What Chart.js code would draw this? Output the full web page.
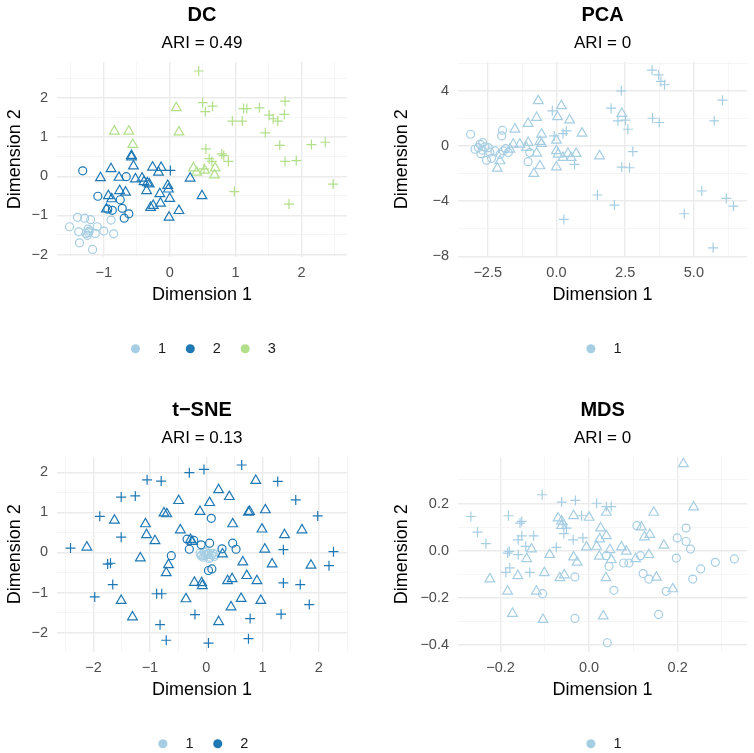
<!DOCTYPE html>
<html>
<head>
<meta charset="utf-8">
<script src="https://cdn.jsdelivr.net/npm/chart.js@4.4.0/dist/chart.umd.min.js"></script>
<style>
html, body { margin: 0; padding: 0; background: #fff; overflow: hidden; }
#wrap { position: relative; width: 754px; height: 753px; overflow: hidden; }
canvas { position: absolute; }
</style>
</head>
<body>
<div id="wrap">
  <canvas id="c1" width="377" height="366" style="left:0;top:0"></canvas>
  <canvas id="c2" width="377" height="366" style="left:377px;top:0"></canvas>
  <canvas id="c3" width="377" height="366" style="left:0;top:395px"></canvas>
  <canvas id="c4" width="377" height="366" style="left:377px;top:395px"></canvas>
</div>
<script>
// cluster colours (Paired palette)
var clusterColors = ['#A6CEE3', '#1F78B4', '#B2DF8A']

// ---- DC ----
var dcCircle1 = [[-1.40,-1.05],[-1.29,-1.07],[-1.20,-1.11],[-1.52,-1.29],[-1.38,-1.42],[-1.24,-1.35],[-1.23,-1.44],[-1.10,-1.29],[-1.00,-1.40],[-0.89,-1.12],[-0.85,-1.47],[-1.13,-1.46],[-1.25,-1.51],[-1.37,-1.70],[-1.17,-1.87],[-1.22,-1.40],[-1.27,-1.46]]
var dcCircle2 = [[-1.32,0.14],[-1.09,-0.51],[-0.66,-0.01],[-0.87,-0.87],[-0.72,-0.82],[-0.69,-1.07],[-0.62,-0.96],[-0.75,-0.60],[-0.94,-0.84]]
var dcTriangle2 = [[-1.05,-0.04],[-0.89,0.19],[-0.77,-0.03],[-0.58,0.53],[-0.58,0.49],[-0.55,0.26],[-0.52,-0.07],[-0.42,-0.05],[-0.39,-0.14],[-0.34,-0.17],[-0.31,-0.20],[-0.35,-0.37],[-0.26,0.23],[-0.13,0.22],[-0.17,0.10],[-0.93,-0.50],[-0.88,-0.58],[-0.76,-0.37],[-0.67,-0.41],[-0.96,-0.84],[-0.29,-0.80],[-0.25,-0.75],[-0.14,-0.69],[-0.15,-0.45],[-0.03,-0.24],[-0.02,-0.33],[0.00,-0.57],[0.14,-0.88],[-0.01,-1.05],[0.31,-0.05],[0.49,-0.50]]
var dcCross2 = [[0.01,0.15]]
var dcTriangle3 = [[0.10,1.75],[-0.84,1.15],[-0.62,1.15],[-0.56,0.81],[0.14,1.13],[0.36,0.21],[0.41,0.10],[0.69,0.21],[0.68,0.03],[0.53,0.15]]
var dcCross3 = [[0.44,2.69],[0.50,1.88],[0.65,1.79],[0.54,1.65],[1.12,1.73],[1.17,1.73],[1.36,1.75],[1.51,1.56],[1.57,1.47],[1.64,1.41],[1.75,1.92],[1.74,1.58],[0.95,1.41],[1.10,1.41],[1.45,1.11],[1.67,0.79],[2.15,0.81],[2.36,0.87],[1.75,0.38],[1.92,0.40],[2.48,-0.20],[1.81,-0.71],[0.98,-0.39],[0.55,0.70],[0.60,0.45],[0.64,0.38],[0.79,0.57],[0.82,0.53],[0.89,0.38],[0.52,0.19]]
var dcXTicks = [-1, 0, 1, 2]
var dcXLabels = ['\u22121', '0', '1', '2']
var dcYTicks = [-2, -1, 0, 1, 2]
var dcYLabels = ['\u22122', '\u22121', '0', '1', '2']

// ---- PCA ----
var pcaCircle1 = [[-3.12,0.85],[-2.96,-0.24],[-2.78,0.12],[-2.68,0.24],[-2.60,-0.07],[-2.75,-0.56],[-2.48,-0.12],[-2.54,-1.04],[-2.36,-0.90],[-1.96,1.14],[-1.99,0.73],[-1.93,-0.36],[-1.75,-0.48],[-1.03,-1.14],[-0.97,-0.48],[-2.84,-0.12],[-2.24,-0.36],[-2.05,-0.61],[-2.70,-0.30],[-2.42,-0.45],[-1.85,-0.20]]
var pcaTriangle1 = [[-2.15,-1.62],[-2.05,-1.09],[-1.51,1.21],[-1.57,0.12],[-1.69,-0.24],[-1.03,1.62],[-1.03,0.24],[-0.72,2.06],[-0.66,3.27],[-0.82,-2.01],[-0.60,-1.45],[-0.54,0.85],[-0.72,-0.53],[-0.60,0.32],[-0.54,0.17],[0.00,0.41],[0.04,2.11],[0.18,2.91],[0.00,-0.36],[0.00,-1.53],[0.06,-0.61],[0.24,-0.85],[0.48,1.87],[0.42,-0.56],[0.72,-0.56],[0.93,0.92],[0.54,-0.85],[1.57,-0.73],[2.38,2.35],[-1.33,0.12],[-1.09,-0.12]]
var pcaCross1 = [[-0.15,2.55],[-0.08,0.73],[0.24,0.90],[0.36,1.09],[0.66,-1.33],[0.27,-5.33],[1.49,-3.56],[2.11,-4.29],[1.99,2.74],[2.36,4.00],[2.24,1.82],[2.51,1.87],[2.60,1.21],[2.78,-0.41],[2.38,-1.53],[2.66,-1.58],[3.48,5.50],[3.72,5.16],[3.80,4.68],[3.93,4.44],[3.50,2.01],[3.74,1.70],[5.29,-3.27],[4.65,-4.92],[5.74,1.82],[6.04,3.32],[6.18,-3.81],[6.44,-4.36],[5.70,-7.39]]
var pcaXTicks = [-2.5, 0, 2.5, 5]
var pcaXLabels = ['\u22122.5', '0.0', '2.5', '5.0']
var pcaYTicks = [-8, -4, 0, 4]
var pcaYLabels = ['\u22128', '\u22124', '0', '4']

// ---- t-SNE ----
var tsneCircle1 = [[-0.08,-0.06],[-0.02,-0.08],[0.04,-0.03],[0.12,-0.02],[0.01,0.02],[0.07,-0.12],[-0.05,-0.12],[0.14,-0.10],[-0.11,-0.02],[0.00,-0.05],[0.09,-0.06],[-0.04,0.00],[0.05,-0.15],[0.16,-0.05],[-0.09,-0.09]]
var tsneCircle2 = [[0.09,0.85],[-0.62,-0.08],[-0.34,0.33],[-0.22,0.30],[-0.30,0.08],[-0.09,0.19],[0.06,0.23],[0.28,0.09],[0.47,0.23],[0.53,0.08],[0.04,-0.45],[0.10,-0.41]]
var tsneTriangle2 = [[-2.12,0.13],[-1.63,0.80],[-1.51,-1.20],[-1.31,-1.61],[-1.17,-0.14],[-1.08,0.71],[-1.06,0.44],[-0.91,0.29],[-0.75,0.98],[-0.70,0.96],[-0.67,-0.31],[-0.71,-0.51],[-0.49,1.29],[-0.46,0.56],[-0.11,1.02],[0.06,1.24],[0.22,1.56],[0.41,1.39],[0.47,0.71],[0.75,1.00],[0.77,1.02],[1.05,1.06],[0.88,1.79],[0.99,0.58],[1.39,0.44],[1.70,0.56],[1.04,0.08],[1.17,-0.29],[1.86,-0.32],[0.65,-0.24],[0.72,-0.58],[0.90,-0.71],[0.46,-0.66],[0.38,-0.71],[0.29,-0.04],[-0.21,-0.75],[-0.08,-0.76],[-0.07,-0.83],[-0.36,-1.16],[0.62,-1.15],[0.97,-1.20],[0.44,-1.36],[0.22,-1.73],[-0.28,0.32],[-0.25,0.27]]
var tsneCross2 = [[-2.41,0.11],[-1.89,0.90],[-1.51,1.38],[-1.26,1.41],[-1.05,1.81],[-0.80,1.78],[-0.30,1.99],[-0.04,2.07],[0.63,2.18],[1.27,1.77],[1.59,1.31],[1.98,0.91],[2.26,0.02],[2.18,-0.33],[1.37,0.07],[1.37,-0.76],[1.67,-0.80],[1.83,-1.30],[1.33,-1.54],[0.78,-1.65],[0.75,-2.15],[0.04,-2.26],[-0.71,-2.19],[-0.82,-1.80],[-0.20,-1.55],[-0.88,-1.03],[-0.79,-1.03],[-1.51,0.38],[-1.75,-0.29],[-1.70,-0.27],[-1.66,-0.80],[-1.98,-1.11]]
var tsneXTicks = [-2, -1, 0, 1, 2]
var tsneXLabels = ['\u22122', '\u22121', '0', '1', '2']
var tsneYTicks = [-2, -1, 0, 1, 2]
var tsneYLabels = ['\u22122', '\u22121', '0', '1', '2']

// ---- MDS ----
var mdsCircle1 = [[-0.105,-0.182],[-0.032,-0.111],[-0.032,-0.287],[0.039,-0.021],[0.045,-0.066],[0.041,-0.390],[0.056,-0.168],[0.078,-0.052],[0.090,-0.052],[0.108,0.106],[0.116,-0.021],[0.122,-0.097],[0.135,-0.120],[0.157,-0.270],[0.174,-0.172],[0.197,-0.031],[0.199,0.054],[0.219,0.096],[0.219,0.039],[0.229,0.007],[0.234,-0.120],[0.252,-0.077],[0.285,-0.049],[0.328,-0.035]]
var mdsTriangle1 = [[-0.224,-0.120],[-0.184,-0.172],[-0.173,-0.266],[-0.161,-0.106],[-0.141,-0.034],[-0.130,0.007],[-0.119,-0.172],[-0.104,-0.292],[-0.101,-0.094],[-0.089,-0.017],[-0.070,0.138],[-0.066,-0.115],[-0.062,0.106],[-0.056,-0.103],[-0.035,0.148],[-0.035,-0.027],[-0.027,-0.049],[-0.006,0.015],[0.000,0.141],[0.017,0.018],[0.023,-0.024],[0.026,0.096],[0.024,0.049],[0.039,0.063],[0.039,0.162],[0.038,-0.115],[0.032,-0.277],[0.047,0.004],[0.050,-0.038],[0.073,0.015],[0.084,-0.003],[0.105,-0.034],[0.118,0.100],[0.125,0.058],[0.137,0.068],[0.135,-0.017],[0.146,0.162],[0.152,-0.113],[0.169,0.023],[0.189,-0.162],[0.213,0.368],[0.236,0.185],[-0.062,0.125]]
var mdsCross1 = [[-0.267,0.145],[-0.252,0.079],[-0.233,0.030],[-0.182,0.148],[-0.184,-0.010],[-0.180,-0.003],[-0.188,-0.092],[-0.179,-0.073],[-0.160,-0.017],[-0.156,0.117],[-0.152,0.124],[-0.160,0.046],[-0.152,0.063],[-0.143,0.018],[-0.134,-0.092],[-0.125,0.063],[-0.106,0.237],[-0.074,0.014],[-0.062,0.206],[-0.059,0.110],[-0.057,0.072],[-0.051,0.096],[-0.031,0.213],[-0.036,0.046],[-0.017,0.148],[-0.014,0.054],[0.017,0.201],[0.039,0.187],[0.050,0.187]]
var mdsXTicks = [-0.2, 0, 0.2]
var mdsXLabels = ['\u22120.2', '0.0', '0.2']
var mdsYTicks = [-0.4, -0.2, 0, 0.2]
var mdsYLabels = ['\u22120.4', '\u22120.2', '0.0', '0.2']

var FONT = "'Liberation Sans', Arial, sans-serif"
var radius = { circle: 4, triangle: 5.6, cross: 5 }

function group(pts, cluster, shape) {
    return {
        data: pts.map(function (p) { return { x: p[0], y: p[1] } }),
        pointStyle: shape,
        pointRadius: radius[shape],
        pointBorderWidth: 1.2,
        borderColor: clusterColors[cluster - 1],
        backgroundColor: 'rgba(0,0,0,0)',
        showLine: false
    }
}

function findMajor(majors, v) {
    for (var i = 0; i < majors.length; i++) {
        if (Math.abs(majors[i] - v) < 1e-6) return i
    }
    return -1
}

// major ticks plus the minor ones halfway between
function buildTicks(majors, min, max) {
    var step = majors[1] - majors[0]
    var vals = majors.slice()
    for (var i = -1; i < majors.length; i++) {
        vals.push(majors[0] + (i + 0.5) * step)
    }
    vals = vals.filter(function (v) { return v >= min && v <= max })
    vals.sort(function (a, b) { return a - b })
    return vals.map(function (v) { return { value: v } })
}

function axis(majors, labels, min, max, title) {
    return {
        type: 'linear',
        min: min,
        max: max,
        afterBuildTicks: function (s) { s.ticks = buildTicks(majors, min, max) },
        ticks: {
            autoSkip: false,
            maxRotation: 0,
            padding: 8,
            color: '#4D4D4D',
            font: { family: FONT, size: 14.5 },
            callback: function (v) {
                var i = findMajor(majors, v)
                return i >= 0 ? labels[i] : ''
            }
        },
        grid: {
            drawTicks: false,
            color: function (c) { return findMajor(majors, c.tick.value) >= 0 ? '#EBEBEB' : '#F3F3F3' },
            lineWidth: function (c) { return findMajor(majors, c.tick.value) >= 0 ? 1.4 : 0.8 }
        },
        border: { display: false },
        title: { display: true, text: title, color: '#000', font: { family: FONT, size: 18 } }
    }
}

function makePanel(id, opt) {
    var x = axis(opt.xTicks, opt.xLabels, opt.xMin, opt.xMax, 'Dimension 1')
    x.afterFit = function (s) { s.height = 68 }
    x.title.padding = { top: 0, bottom: 18.7 }
    var y = axis(opt.yTicks, opt.yLabels, opt.yMin, opt.yMax, 'Dimension 2')
    y.ticks.padding = 9
    y.afterFit = function (s) { s.width = opt.yWidth }
    y.title.padding = { top: opt.yTitlePad, bottom: 0 }

    new Chart(document.getElementById(id), {
        type: 'scatter',
        data: { datasets: opt.groups },
        options: {
            responsive: false,
            animation: false,
            events: [],
            layout: { padding: { left: 0, right: opt.padRight, top: 0, bottom: 0 } },
            scales: { x: x, y: y },
            plugins: {
                tooltip: { enabled: false },
                title: {
                    display: true, text: opt.title, fullSize: false, color: '#000',
                    font: { family: FONT, size: 20, weight: 'bold' },
                    padding: { top: 3, bottom: 0 }
                },
                subtitle: {
                    display: true, text: opt.sub, fullSize: false, color: '#000',
                    font: { family: FONT, size: 17 },
                    padding: { top: 6, bottom: 8.6 }
                },
                legend: {
                    display: true,
                    position: 'bottom',
                    fullSize: false,
                    labels: {
                        usePointStyle: true,
                        boxWidth: 14.5,
                        boxHeight: 6.4,
                        padding: 17,
                        color: '#1A1A1A',
                        font: { family: FONT, size: 14.5 },
                        generateLabels: function () {
                            return opt.legend.map(function (k) {
                                return {
                                    text: '  ' + k,
                                    fillStyle: clusterColors[k - 1],
                                    strokeStyle: clusterColors[k - 1],
                                    lineWidth: 0,
                                    pointStyle: 'circle',
                                    hidden: false,
                                    fontColor: '#1A1A1A'
                                }
                            })
                        }
                    }
                }
            }
        }
    })
}

makePanel('c1', {
    title: 'DC', sub: 'ARI = 0.49', legend: [1, 2, 3],
    groups: [group(dcCircle1, 1, 'circle'), group(dcCircle2, 2, 'circle'), group(dcTriangle2, 2, 'triangle'),
             group(dcCross2, 2, 'cross'), group(dcTriangle3, 3, 'triangle'), group(dcCross3, 3, 'cross')],
    xTicks: dcXTicks, xLabels: dcXLabels, xMin: -1.71, xMax: 2.69,
    yTicks: dcYTicks, yLabels: dcYLabels, yMin: -2.05, yMax: 2.92,
    yWidth: 57, padRight: 30, yTitlePad: 4.2
})

makePanel('c2', {
    title: 'PCA', sub: 'ARI = 0', legend: [1],
    groups: [group(pcaCircle1, 1, 'circle'), group(pcaTriangle1, 1, 'triangle'), group(pcaCross1, 1, 'cross')],
    xTicks: pcaXTicks, xLabels: pcaXLabels, xMin: -3.58, xMax: 6.94,
    yTicks: pcaYTicks, yLabels: pcaYLabels, yMin: -8.02, yMax: 6.09,
    yWidth: 81, padRight: 6, yTitlePad: 14.2
})

makePanel('c3', {
    title: 't\u2212SNE', sub: 'ARI = 0.13', legend: [1, 2],
    groups: [group(tsneTriangle2, 2, 'triangle'), group(tsneCross2, 2, 'cross'), group(tsneCircle2, 2, 'circle'),
             group(tsneCircle1, 1, 'circle')],
    xTicks: tsneXTicks, xLabels: tsneXLabels, xMin: -2.65, xMax: 2.50,
    yTicks: tsneYTicks, yLabels: tsneYLabels, yMin: -2.47, yMax: 2.38,
    yWidth: 57, padRight: 30, yTitlePad: 4.2
})

makePanel('c4', {
    title: 'MDS', sub: 'ARI = 0', legend: [1],
    groups: [group(mdsCircle1, 1, 'circle'), group(mdsTriangle1, 1, 'triangle'), group(mdsCross1, 1, 'cross')],
    xTicks: mdsXTicks, xLabels: mdsXLabels, xMin: -0.296, xMax: 0.357,
    yTicks: mdsYTicks, yLabels: mdsYLabels, yMin: -0.427, yMax: 0.397,
    yWidth: 81, padRight: 6, yTitlePad: 14.2
})
</script>
</body>
</html>
